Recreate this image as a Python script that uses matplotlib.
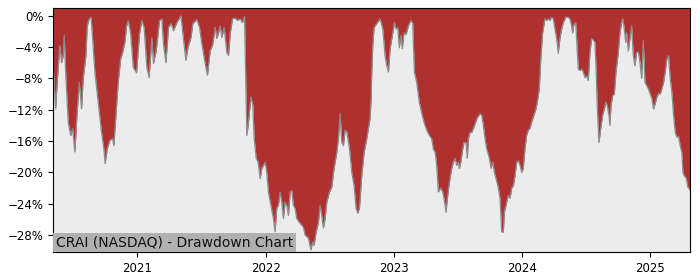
import matplotlib
matplotlib.use("Agg")
import matplotlib.pyplot as plt
from matplotlib.ticker import PercentFormatter, MultipleLocator
import pandas as pd
import numpy as np

title = "CRAI (NASDAQ) - Drawdown Chart"

# decimal-year positions of the samples
years = [
    2020.345, 2020.364, 2020.376, 2020.397, 2020.410, 2020.423, 2020.431, 2020.442, 2020.462, 2020.481,
    2020.496, 2020.514, 2020.527, 2020.548, 2020.566, 2020.579, 2020.600, 2020.610, 2020.626, 2020.641,
    2020.652, 2020.670, 2020.696, 2020.722, 2020.740, 2020.750, 2020.766, 2020.787, 2020.808, 2020.818,
    2020.839, 2020.852, 2020.871, 2020.886, 2020.904, 2020.917, 2020.930, 2020.949, 2020.969, 2020.995,
    2021.016, 2021.034, 2021.052, 2021.073, 2021.091, 2021.112, 2021.125, 2021.146, 2021.172, 2021.190,
    2021.203, 2021.222, 2021.242, 2021.263, 2021.281, 2021.307, 2021.328, 2021.339, 2021.354, 2021.378,
    2021.393, 2021.417, 2021.432, 2021.463, 2021.484, 2021.502, 2021.528, 2021.546, 2021.567, 2021.588,
    2021.606, 2021.619, 2021.632, 2021.645, 2021.658, 2021.676, 2021.697, 2021.710, 2021.723, 2021.741,
    2021.762, 2021.780, 2021.801, 2021.819, 2021.835, 2021.853, 2021.863, 2021.885, 2021.900, 2021.910,
    2021.926, 2021.941, 2021.957, 2021.970, 2021.983, 2021.996, 2022.009, 2022.022, 2022.041, 2022.061,
    2022.074, 2022.087, 2022.100, 2022.113, 2022.126, 2022.139, 2022.152, 2022.165, 2022.178, 2022.191,
    2022.204, 2022.217, 2022.230, 2022.243, 2022.269, 2022.295, 2022.308, 2022.334, 2022.353, 2022.368,
    2022.378, 2022.394, 2022.412, 2022.425, 2022.438, 2022.451, 2022.464, 2022.477, 2022.498, 2022.516,
    2022.534, 2022.555, 2022.568, 2022.581, 2022.594, 2022.607, 2022.620, 2022.633, 2022.654, 2022.672,
    2022.690, 2022.706, 2022.719, 2022.732, 2022.750, 2022.768, 2022.789, 2022.815, 2022.823, 2022.828,
    2022.836, 2022.846, 2022.867, 2022.893, 2022.914, 2022.932, 2022.945, 2022.958, 2022.971, 2022.992,
    2023.005, 2023.018, 2023.031, 2023.044, 2023.055, 2023.067, 2023.080, 2023.096, 2023.114, 2023.133,
    2023.148, 2023.161, 2023.179, 2023.200, 2023.218, 2023.236, 2023.257, 2023.278, 2023.296, 2023.309,
    2023.324, 2023.335, 2023.348, 2023.367, 2023.382, 2023.392, 2023.408, 2023.418, 2023.434, 2023.439,
    2023.452, 2023.465, 2023.478, 2023.491, 2023.504, 2023.512, 2023.523, 2023.538, 2023.548, 2023.564,
    2023.574, 2023.582, 2023.595, 2023.608, 2023.621, 2023.634, 2023.652, 2023.673, 2023.686, 2023.699,
    2023.712, 2023.725, 2023.746, 2023.759, 2023.772, 2023.785, 2023.798, 2023.816, 2023.829, 2023.842,
    2023.855, 2023.863, 2023.881, 2023.894, 2023.907, 2023.920, 2023.933, 2023.946, 2023.959, 2023.972,
    2023.985, 2023.998, 2024.011, 2024.024, 2024.037, 2024.050, 2024.063, 2024.076, 2024.094, 2024.110,
    2024.120, 2024.136, 2024.149, 2024.162, 2024.180, 2024.193, 2024.206, 2024.219, 2024.232, 2024.245,
    2024.258, 2024.271, 2024.284, 2024.297, 2024.310, 2024.323, 2024.342, 2024.362, 2024.375, 2024.388,
    2024.396, 2024.406, 2024.420, 2024.427, 2024.440, 2024.453, 2024.466, 2024.479, 2024.492, 2024.505,
    2024.518, 2024.531, 2024.544, 2024.557, 2024.570, 2024.578, 2024.588, 2024.601, 2024.615, 2024.630,
    2024.643, 2024.656, 2024.666, 2024.679, 2024.687, 2024.695, 2024.708, 2024.721, 2024.734, 2024.752,
    2024.765, 2024.778, 2024.786, 2024.796, 2024.810, 2024.817, 2024.830, 2024.843, 2024.856, 2024.869,
    2024.882, 2024.895, 2024.908, 2024.921, 2024.934, 2024.947, 2024.960, 2024.973, 2024.986, 2024.999,
    2025.012, 2025.025, 2025.038, 2025.051, 2025.064, 2025.077, 2025.090, 2025.103, 2025.116, 2025.129,
    2025.142, 2025.155, 2025.168, 2025.181, 2025.194, 2025.207, 2025.220, 2025.233, 2025.246, 2025.254,
    2025.264, 2025.280, 2025.293, 2025.303, 2025.311,
]

# drawdown in percent
drawdown = [
    -6.4, -11.9, -8.5, -3.8, -6.0, -5.1, -2.5, -7.2, -13.6, -15.3,
    -14.4, -17.4, -13.6, -8.5, -11.9, -8.0, -5.1, -1.3, -0.4, -0.2,
    -2.9, -7.2, -11.1, -14.9, -17.0, -18.9, -17.0, -15.9, -15.7, -16.6,
    -11.5, -8.5, -5.5, -4.7, -3.4, -1.3, -0.6, -2.3, -6.6, -7.3,
    -2.3, -0.6, -1.5, -6.6, -7.9, -2.8, -6.1, -4.5, -0.6, -0.4,
    -3.6, -6.0, -1.5, -1.0, -1.9, -0.9, -0.3, 0.0, -2.3, -5.7,
    -4.1, -2.8, -1.0, -0.5, -1.5, -3.6, -6.1, -7.6, -4.5, -3.6,
    -1.5, -2.9, -2.2, -1.3, -2.8, -1.5, -4.7, -5.1, -2.3, -0.4,
    -0.3, -0.6, -0.4, -0.9, -0.1, -15.3, -14.0, -10.4, -11.4, -15.6,
    -18.2, -18.7, -20.8, -19.5, -19.1, -18.7, -20.0, -22.5, -24.2, -25.9,
    -27.6, -24.6, -24.2, -22.5, -23.8, -25.9, -23.8, -24.2, -25.5, -22.5,
    -22.3, -24.2, -24.6, -25.9, -26.5, -27.0, -28.0, -28.4, -29.9, -28.9,
    -29.3, -27.6, -26.4, -24.2, -25.5, -27.1, -25.9, -23.8, -22.5, -21.9,
    -19.5, -17.5, -15.7, -12.5, -16.2, -16.6, -14.6, -14.8, -16.9, -20.0,
    -21.7, -24.6, -25.2, -24.6, -20.4, -17.5, -15.7, -13.1, -10.6, -7.2,
    -3.8, -1.5, -1.0, -0.4, -1.7, -5.1, -6.4, -7.2, -4.2, -2.2,
    -0.9, -1.7, -1.5, -4.1, -2.5, -4.2, -2.2, -2.4, -1.3, -0.6,
    -0.9, -7.2, -8.5, -11.1, -12.4, -13.6, -14.6, -15.3, -15.7, -17.0,
    -17.5, -19.1, -22.5, -22.0, -22.5, -23.3, -25.1, -23.3, -21.3, -20.8,
    -19.5, -18.7, -18.2, -19.1, -18.7, -19.5, -18.7, -17.0, -16.2, -16.2,
    -18.2, -15.7, -14.9, -14.9, -14.4, -13.8, -13.0, -12.5, -12.7, -14.0,
    -15.7, -17.0, -18.2, -19.5, -18.7, -20.0, -20.8, -22.0, -23.3, -27.6,
    -27.6, -25.1, -23.8, -22.9, -23.3, -22.0, -21.7, -20.4, -18.7, -18.5,
    -19.1, -20.0, -19.5, -17.0, -15.3, -14.6, -14.4, -13.6, -12.7, -11.9,
    -11.1, -9.3, -5.1, -2.2, -0.4, -0.6, -0.4, -0.6, -0.2, -0.4,
    -1.7, -2.9, -4.8, -2.9, -1.7, -0.9, -0.2, -0.2, -0.4, -1.3,
    -2.2, -1.1, -0.9, -2.9, -6.8, -7.0, -6.8, -7.2, -7.9, -7.7,
    -8.3, -4.7, -2.9, -3.1, -3.4, -6.4, -11.5, -16.2, -14.4, -12.7,
    -11.9, -11.0, -11.5, -12.7, -14.0, -11.5, -10.2, -10.0, -7.2, -4.7,
    -2.2, -0.9, -0.4, -1.3, -3.4, -2.2, -4.5, -2.9, -1.3, -5.1,
    -6.4, -4.7, -4.6, -5.9, -8.0, -3.2, -8.5, -8.9, -9.3, -9.9,
    -10.6, -11.9, -11.2, -10.4, -9.9, -10.0, -9.3, -8.5, -7.2, -5.5,
    -5.1, -8.0, -9.8, -12.7, -14.9, -15.5, -15.4, -16.6, -17.5, -20.0,
    -20.4, -20.8, -21.9, -22.1, -22.3,
]

year_ticks = ["2021", "2022", "2023", "2024", "2025"]

def to_date(y):
    base = int(np.floor(y))
    return pd.Timestamp(f"{base}-01-01") + pd.Timedelta(days=(y - base) * 365.25)

dates = pd.to_datetime([to_date(y) for y in years])
dd = np.array(drawdown)

fig = plt.figure(figsize=(7, 2.8), dpi=100)
ax = fig.add_axes([0.076, 0.099, 0.910, 0.873])
ax.set_facecolor("#ececec")
y_top = 1.0
ax.fill_between(dates, dd, y_top, color="#b03030", linewidth=0)
ax.plot(dates, dd, color="#8c8c8c", linewidth=0.9)

ax.set_xlim(dates[0], dates[-1])
ax.set_ylim(dd.min() - 0.3, y_top)
ax.yaxis.set_major_locator(MultipleLocator(4))
ax.yaxis.set_major_formatter(PercentFormatter(xmax=100, decimals=0))
ax.set_xticks(pd.to_datetime([f"{t}-01-01" for t in year_ticks]))
ax.set_xticklabels(year_ticks)
ax.tick_params(labelsize=8.5)

ax.text(0.004, 0.012, title, transform=ax.transAxes, fontsize=10,
        ha="left", va="bottom", color="#111111",
        bbox=dict(facecolor="#b0b0b0", edgecolor="none", pad=2.0))

fig.savefig("out.png", dpi=100)
